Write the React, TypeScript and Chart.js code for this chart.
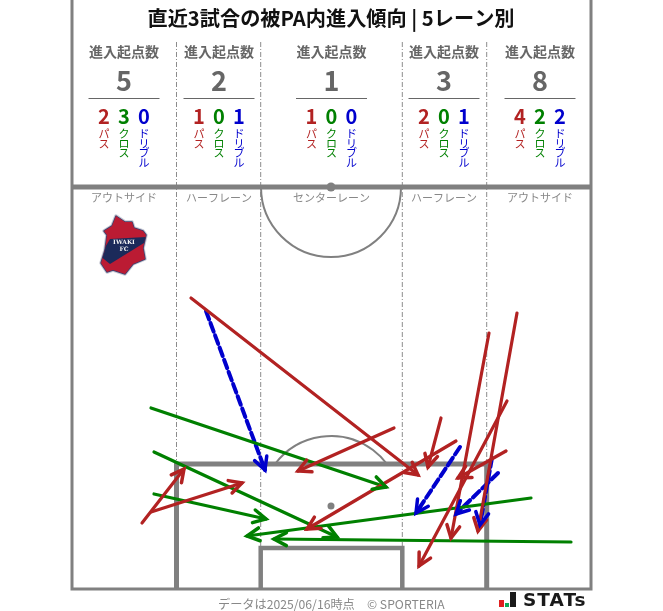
import React, { useEffect, useRef } from "react";
import { Chart, registerables } from "chart.js";

Chart.register(...registerables);

const FONT = '"Noto Sans CJK JP", "Noto Sans", sans-serif';
const RED = "#b22222";
const GREEN = "#008000";
const BLUE = "#0000cd";
const PITCH = "#808080";

const titleText = "直近3試合の被PA内進入傾向 | 5レーン別";
const laneCenters = [124, 219, 331.5, 444, 540];
const laneNames = ["アウトサイド", "ハーフレーン", "センターレーン", "ハーフレーン", "アウトサイド"];
const laneTotals = [5, 2, 1, 3, 8];
const passCounts = [2, 1, 1, 2, 4];
const crossCounts = [3, 0, 0, 0, 2];
const dribbleCounts = [0, 1, 0, 1, 2];
const kindNames = ["パス", "クロス", "ドリブル"];
const kindColors = [RED, GREEN, BLUE];
const laneDividers = [176.5, 260.7, 402.3, 486.7];

// [startX, startY, endX, endY] in picture units
const passArrows = [
  [191, 298, 418, 475],
  [394, 428, 298, 471],
  [142, 523, 184, 469],
  [151, 512, 242, 483],
  [456, 441, 307, 529],
  [441, 418, 428, 467],
  [489, 333, 451, 538],
  [517, 313, 478, 531],
  [507, 401, 419, 566],
  [506, 451, 458, 478],
];
const crossArrows = [
  [151, 408, 386, 487],
  [154, 452, 337, 537],
  [154, 494, 266, 519],
  [531, 498, 247, 536],
  [571, 542, 274, 539],
];
const dribbleArrows = [
  [206, 311, 265, 470],
  [460, 447, 416, 513],
  [498, 473, 456, 514],
  [492, 458, 480, 525],
];

const pitchLines = [
  { w: 3, pts: [[72, 0], [72, 589], [591, 589], [591, 0]] },
  { w: 5, pts: [[72, 187], [591, 187]] },
  { w: 5, pts: [[176.5, 589], [176.5, 464], [486.7, 464], [486.7, 589]] },
  { w: 4.5, pts: [[260.7, 589], [260.7, 548], [402.3, 548], [402.3, 589]] },
];

const badgeOutline = [
  [116, 216], [125, 222], [132, 222], [134, 228], [143, 231], [146, 235], [143, 248],
  [145, 259], [133, 264], [125, 274], [113, 270], [107, 272], [101, 263], [105, 250],
  [107, 235], [104, 231], [112, 226],
];
const badgeBand = [[110, 239], [148, 237], [144, 243], [110, 264], [100, 256]];

const arrowDatasets = (arrows: number[][], color: string, dash: number[], width: number) =>
  arrows.map((a) => ({
    type: "line" as const,
    data: [{ x: a[0], y: a[1] }, { x: a[2], y: a[3] }],
    borderColor: color,
    borderWidth: width,
    borderDash: dash,
    borderCapStyle: "round" as const,
    pointRadius: 0,
    tension: 0,
    arrowHead: true,
    order: 1,
  }));

const pitchPlugin = {
  id: "pitchDecor",
  beforeDatasetsDraw(chart: any) {
    const { ctx, scales } = chart;
    const X = (v: number) => scales.x.getPixelForValue(v);
    const Y = (v: number) => scales.y.getPixelForValue(v);
    ctx.save();
    // lane dividers
    ctx.strokeStyle = "#8c8c8c";
    ctx.lineWidth = 1;
    ctx.setLineDash([5, 2, 1, 2]);
    laneDividers.forEach((d) => {
      ctx.beginPath();
      ctx.moveTo(X(d), Y(42));
      ctx.lineTo(X(d), Y(589));
      ctx.stroke();
    });
    ctx.setLineDash([]);
    // circles
    ctx.strokeStyle = PITCH;
    ctx.lineWidth = 2;
    ctx.beginPath();
    ctx.arc(X(331), Y(187), 70, 0, Math.PI);
    ctx.stroke();
    const a = Math.asin(42 / 70);
    ctx.beginPath();
    ctx.arc(X(331), Y(506), 70, Math.PI + a, -a);
    ctx.stroke();
    ctx.fillStyle = PITCH;
    ctx.beginPath();
    ctx.arc(X(331), Y(187), 4.5, 0, Math.PI * 2);
    ctx.fill();
    ctx.beginPath();
    ctx.arc(X(331), Y(506), 3.5, 0, Math.PI * 2);
    ctx.fill();

    // lane texts
    ctx.textAlign = "center";
    ctx.textBaseline = "middle";
    laneCenters.forEach((c, i) => {
      const x = X(c);
      ctx.fillStyle = "#666666";
      ctx.font = `bold 14px ${FONT}`;
      ctx.fillText("進入起点数", x, Y(52));
      ctx.font = `bold 27px ${FONT}`;
      ctx.fillText(String(laneTotals[i]), x, Y(81));
      ctx.strokeStyle = "#666666";
      ctx.lineWidth = 1;
      ctx.beginPath();
      ctx.moveTo(x - 35.5, Y(98.5));
      ctx.lineTo(x + 35.5, Y(98.5));
      ctx.stroke();
      [passCounts[i], crossCounts[i], dribbleCounts[i]].forEach((n, k) => {
        const kx = x + (k - 1) * 20;
        ctx.fillStyle = kindColors[k];
        ctx.font = `bold 20px ${FONT}`;
        ctx.fillText(String(n), kx, Y(116));
        ctx.font = `11px ${FONT}`;
        Array.from(kindNames[k]).forEach((ch, j) => {
          ctx.fillText(ch, kx, Y(133.5 + j * 9.9));
        });
      });
      ctx.fillStyle = "#888888";
      ctx.font = `11px ${FONT}`;
      ctx.fillText(laneNames[i], x, Y(198));
    });

    // club badge
    const path = (pts: number[][]) => {
      ctx.beginPath();
      pts.forEach((p, i) => (i ? ctx.lineTo(X(p[0]), Y(p[1])) : ctx.moveTo(X(p[0]), Y(p[1]))));
      ctx.closePath();
    };
    path(badgeOutline);
    ctx.strokeStyle = "#c9cbd6";
    ctx.lineWidth = 3.5;
    ctx.lineJoin = "round";
    ctx.stroke();
    path(badgeOutline);
    ctx.strokeStyle = "#3a4170";
    ctx.lineWidth = 1.5;
    ctx.stroke();
    ctx.fillStyle = "#bb1b33";
    ctx.fill();
    ctx.save();
    path(badgeOutline);
    ctx.clip();
    path(badgeBand);
    ctx.fillStyle = "#1b2a5a";
    ctx.fill();
    ctx.restore();
    ctx.fillStyle = "#f4f4f4";
    ctx.font = `bold 6px "DejaVu Serif", serif`;
    ctx.fillText("IWAKI", X(124), Y(242));
    ctx.fillText("FC", X(124), Y(249));

    // footer
    ctx.textAlign = "left";
    ctx.fillStyle = "#888888";
    ctx.font = `12.2px ${FONT}`;
    ctx.fillText("データは2025/06/16時点", X(218), Y(604));
    ctx.fillText("© SPORTERIA", X(367), Y(604));

    // stats logo
    ctx.fillStyle = "#e02020";
    ctx.fillRect(X(499), Y(600), 5, 7);
    ctx.fillStyle = "#0fa958";
    ctx.fillRect(X(505), Y(603), 4, 4);
    ctx.fillStyle = "#1a1a1a";
    ctx.fillRect(X(510), Y(592), 6, 15);
    ctx.font = `bold 18.5px "DejaVu Sans", sans-serif`;
    ctx.letterSpacing = "1px";
    ctx.fillText("STATs", X(523), Y(601));
    ctx.restore();
  },
  afterDatasetsDraw(chart: any) {
    const { ctx } = chart;
    const len = 14;
    const spread = 0.48;
    chart.data.datasets.forEach((ds: any, i: number) => {
      if (!ds.arrowHead) return;
      const pts = chart.getDatasetMeta(i).data;
      const a = pts[0];
      const b = pts[1];
      const ang = Math.atan2(b.y - a.y, b.x - a.x);
      ctx.save();
      ctx.strokeStyle = ds.borderColor;
      ctx.lineWidth = 3.5;
      ctx.lineCap = "round";
      ctx.lineJoin = "miter";
      ctx.beginPath();
      ctx.moveTo(b.x - len * Math.cos(ang - spread), b.y - len * Math.sin(ang - spread));
      ctx.lineTo(b.x, b.y);
      ctx.lineTo(b.x - len * Math.cos(ang + spread), b.y - len * Math.sin(ang + spread));
      ctx.stroke();
      ctx.restore();
    });
  },
};

export default function App() {
  const ref = useRef<HTMLCanvasElement>(null);
  useEffect(() => {
    if (!ref.current) return;
    const pitchDatasets = pitchLines.map((l) => ({
      type: "line" as const,
      data: l.pts.map((p) => ({ x: p[0], y: p[1] })),
      borderColor: PITCH,
      borderWidth: l.w,
      pointRadius: 0,
      tension: 0,
      order: 5,
    }));
    const chart = new Chart(ref.current, {
      type: "line",
      data: {
        datasets: [
          ...pitchDatasets,
          ...arrowDatasets(passArrows, RED, [], 3.2),
          ...arrowDatasets(crossArrows, GREEN, [], 3.2),
          ...arrowDatasets(dribbleArrows, BLUE, [9, 4], 4),
        ] as any,
      },
      options: {
        responsive: false,
        animation: false,
        layout: { padding: 0 },
        scales: {
          x: { type: "linear", display: false, min: 0, max: 663 },
          y: { type: "linear", display: false, min: 0, max: 611, reverse: true },
        },
        plugins: {
          legend: { display: false },
          tooltip: { enabled: false },
          title: { display: false },
        },
      },
      plugins: [
        pitchPlugin,
        {
          id: "titleText",
          afterDraw(c: any) {
            const { ctx } = c;
            ctx.save();
            ctx.fillStyle = "#111111";
            ctx.font = `bold 20.2px ${FONT}`;
            ctx.textAlign = "center";
            ctx.textBaseline = "middle";
            ctx.fillText(titleText, c.scales.x.getPixelForValue(331), c.scales.y.getPixelForValue(18));
            ctx.restore();
          },
        },
      ],
    });
    return () => chart.destroy();
  }, []);
  return (
    <div style={{ position: "absolute", left: 0, top: 0, width: 663, height: 611, background: "#fff" }}>
      <canvas ref={ref} width={663} height={611} style={{ display: "block", width: 663, height: 611 }} />
    </div>
  );
}
